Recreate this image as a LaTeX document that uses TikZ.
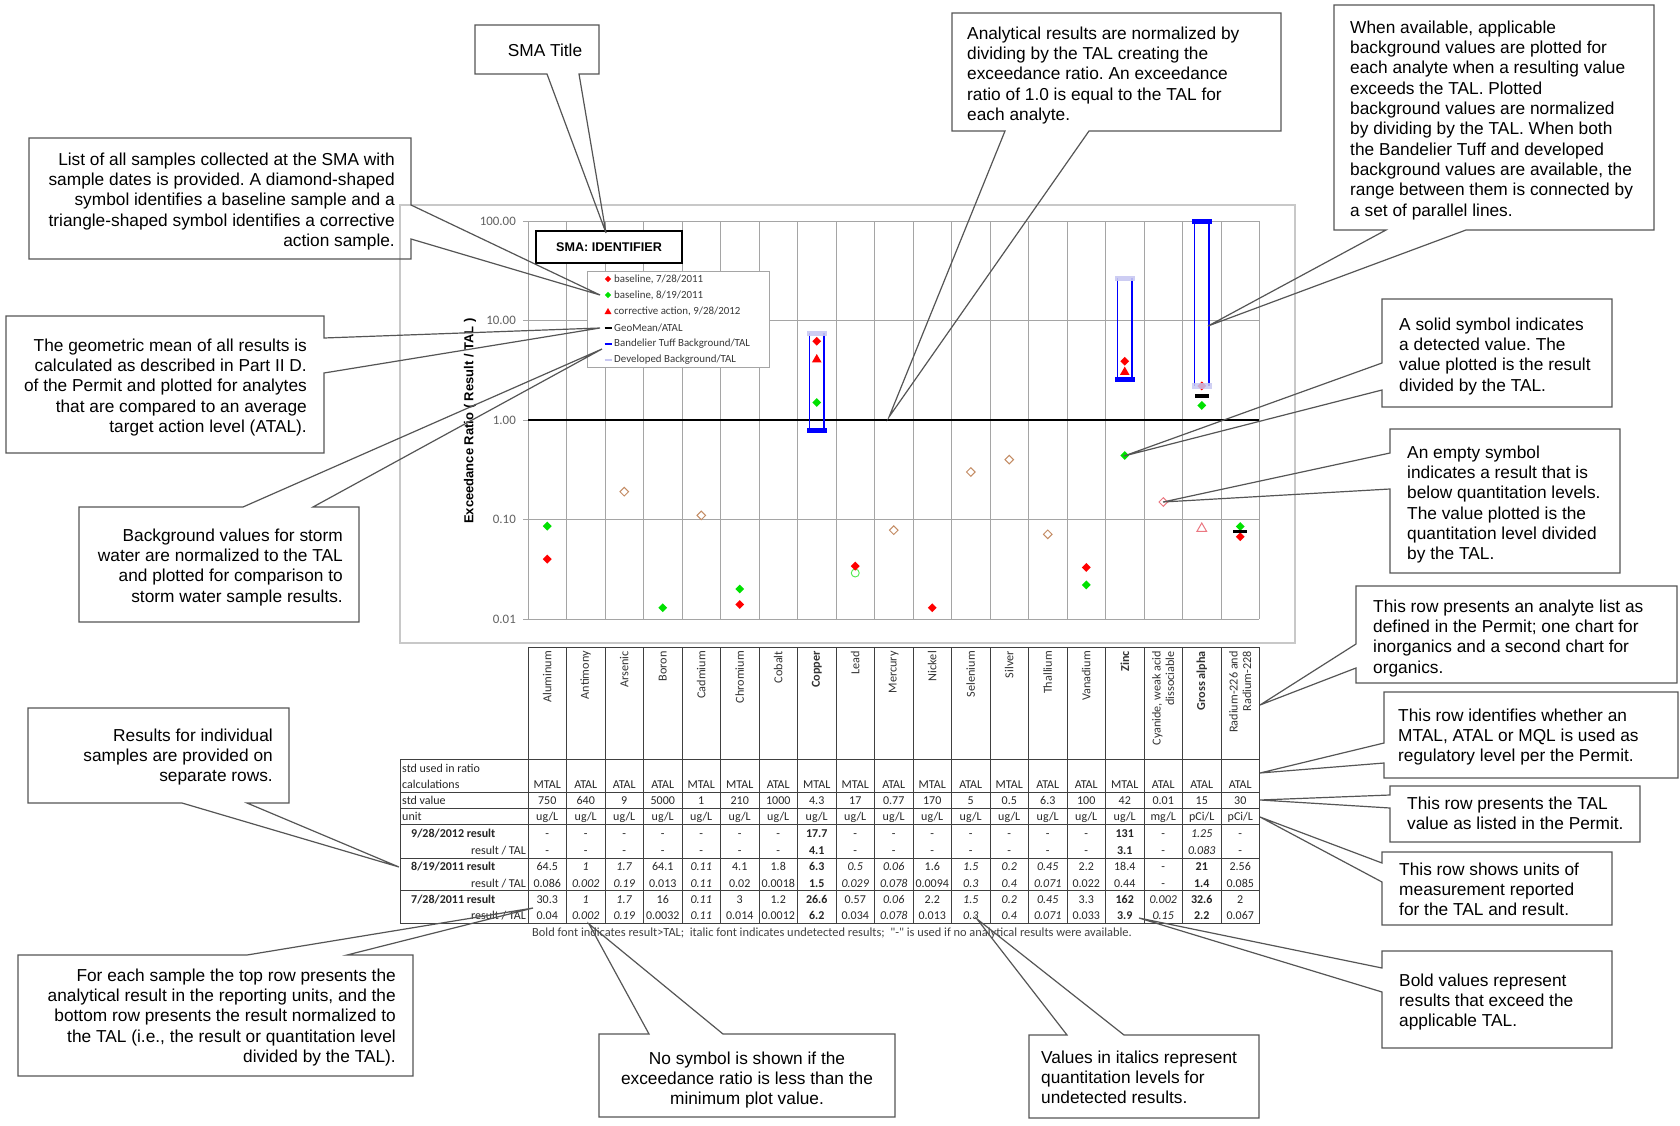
\documentclass[tikz,border=0pt]{standalone}
\usepackage{fontspec}
\setmainfont{Liberation Sans}
\newfontfamily\calfont{Carlito}
\usetikzlibrary{shapes.geometric}
\definecolor{cgreen}{RGB}{0,225,0}
\definecolor{cred}{RGB}{255,0,0}
\definecolor{cblue}{RGB}{0,0,255}
\definecolor{clav}{RGB}{200,200,242}
\definecolor{ctan}{RGB}{196,140,100}
\definecolor{cpink}{RGB}{235,120,130}
\definecolor{cgrid}{RGB}{165,165,165}
\definecolor{cframe}{RGB}{200,200,200}
\definecolor{cline}{RGB}{85,85,85}
\newcommand\bv[1]{\textbf{#1}}
\newcommand\iv[1]{\textit{#1}}
\frenchspacing
\begin{document}
\begin{tikzpicture}[x=1pt,y=-1pt,
  callbox/.style={draw=cline, line width=1.2pt, line join=miter},
  ctext/.style={inner sep=0pt, font=\fontsize{17.3}{20.3}\selectfont},
  tabtxt/.style={inner sep=0pt, font=\calfont\fontsize{12}{14}\selectfont, text=black!85},
  hdr/.style={inner sep=0pt, font=\calfont\fontsize{12.2}{13.5}\selectfont, text=black!80, rotate=90, anchor=east, align=right},
  ticklbl/.style={inner sep=0pt, anchor=east, font=\calfont\fontsize{12.9}{15}\selectfont, text=black!62},
  legtxt/.style={inner sep=0pt, anchor=west, font=\calfont\fontsize{10.9}{13}\selectfont, text=black!78},
  fdia/.style={diamond, fill=#1, inner sep=0pt, minimum size=9pt},
  odia/.style={diamond, draw=#1, line width=1pt, inner sep=0pt, minimum size=9pt},
  ftri/.style={regular polygon, regular polygon sides=3, fill=#1, inner sep=0pt, minimum size=11pt},
  otri/.style={regular polygon, regular polygon sides=3, draw=#1, line width=1pt, inner sep=0pt, minimum size=11pt},
  tline/.style={draw=black!75, line width=0.9pt},
  gline/.style={draw=cgrid, line width=0.8pt},
]
\useasboundingbox (0,0) rectangle (1680,1126);
\fill[white] (0,0) rectangle (1680,1126);

% ---------------- chart frame and grid
\draw[cframe, line width=1.6pt] (400,205) rectangle (1295,643);
\foreach \k in {0,...,19} \draw[gline] ({528+\k*38.5},221) -- ({528+\k*38.5},619);
\foreach \yy in {221,320.5,519.5,619} \draw[gline] (523,\yy) -- (1259,\yy);
\draw[gline] (523,420) -- (528,420);
\draw[black, line width=1.6pt] (528,420) -- (1259,420);

\node[ticklbl] (t100) at (516,221) {100.00};
\node[ticklbl] (t10) at (516,320.5) {10.00};
\node[ticklbl] (t1) at (516,420) {1.00};
\node[ticklbl] (t01) at (516,519.5) {0.10};
\node[ticklbl] (t001) at (516,619) {0.01};
\node[rotate=90, inner sep=0pt, font=\bfseries\fontsize{13}{15}\selectfont] (ytitle) at (470,421) {Exceedance Ratio ( Result / TAL )};

% ---------------- background bars
\draw[cblue, line width=1.6pt] (809.45,333) -- (809.45,430) (824.05,333) -- (824.05,430);
\draw[cblue, line width=1.6pt] (1117.45,278) -- (1117.45,379) (1132.05,278) -- (1132.05,379);
\draw[cblue, line width=1.6pt] (1194.45,221) -- (1194.45,386) (1209.05,221) -- (1209.05,386);

% ---------------- data points
\node[fdia=cgreen] (p1a) at (547.25,526.1) {};
\node[fdia=cred] (p1b) at (547.25,559.1) {};
\node[odia=ctan] (p3) at (624.25,491.7) {};
\node[fdia=cgreen] (p4) at (662.75,607.7) {};
\node[odia=ctan] (p5) at (701.25,515.4) {};
\node[fdia=cgreen] (p6a) at (739.75,589.0) {};
\node[fdia=cred] (p6b) at (739.75,604.5) {};
\node[fdia=cred] (p8a) at (816.75,341.2) {};
\node[ftri=cred] (p8b) at (816.75,359.5) {};
\node[fdia=cgreen] (p8c) at (816.75,402.5) {};
\node[circle, draw=cgreen!70, line width=0.9pt, inner sep=0pt, minimum size=8pt] (p9a) at (855.25,573.0) {};
\node[fdia=cred] (p9b) at (855.25,566.1) {};
\node[odia=ctan] (p10) at (893.75,530.2) {};
\node[fdia=cred] (p11) at (932.25,607.7) {};
\node[odia=ctan] (p12) at (970.75,472.0) {};
\node[odia=ctan] (p13) at (1009.25,459.6) {};
\node[odia=ctan] (p14) at (1047.75,534.3) {};
\node[fdia=cgreen] (p15a) at (1086.25,584.9) {};
\node[fdia=cred] (p15b) at (1086.25,567.4) {};
\node[fdia=cred] (p16a) at (1124.75,361.2) {};
\node[ftri=cred] (p16b) at (1124.75,372.1) {};
\node[fdia=cgreen] (p16c) at (1124.75,455.5) {};
\node[odia=cpink] (p17) at (1163.25,502.0) {};
\node[otri=cpink] (p18a) at (1201.75,528.5) {};
\node[fdia=cgreen] (p18b) at (1201.75,405.4) {};
\node[fdia=cred] (p18c) at (1201.75,385.9) {};
\node[fdia=cgreen] (p19a) at (1240.25,526.5) {};
\node[fdia=cred] (p19b) at (1240.25,536.8) {};

% caps and geomeans
\fill[clav, opacity=0.9] (806.75,330.5) rectangle (826.75,335.5);
\fill[cblue] (806.75,427.5) rectangle (826.75,432.5);
\fill[clav, opacity=0.9] (1114.75,275.5) rectangle (1134.75,280.5);
\fill[cblue] (1114.75,377) rectangle (1134.75,382);
\fill[cblue] (1191.75,218.5) rectangle (1211.75,223.5);
\fill[clav, opacity=0.85] (1191.75,383) rectangle (1211.75,389);
\fill[black] (1194.5,394) rectangle (1208.5,397.5);
\fill[black] (1232.7,529.8) rectangle (1246.7,533.4);

% ---------------- SMA identifier and legend
\node[draw=black, line width=2pt, fill=white, minimum width=146pt, minimum height=32pt, inner sep=0pt, font=\bfseries\fontsize{12.6}{14}\selectfont] (sma) at (609,247) {SMA: IDENTIFIER};
\draw[draw=cgrid, fill=white, line width=0.9pt] (587,271) rectangle (769,367);
\node[fdia=cred, minimum size=6.5pt] (ls1) at (608,279) {};
\node[fdia=cgreen, minimum size=6.5pt] (ls2) at (608,295) {};
\node[ftri=cred, minimum size=8pt] (ls3) at (608,312) {};
\draw[black, line width=2pt] (604.5,328) -- (611.5,328);
\draw[cblue, line width=1.6pt] (604.5,344) -- (611.5,344);
\draw[clav, line width=1.6pt] (604.5,360) -- (611.5,360);
\node[legtxt] (lt1) at (614,279) {baseline, 7/28/2011};
\node[legtxt] (lt2) at (614,295) {baseline, 8/19/2011};
\node[legtxt] (lt3) at (614,311) {corrective action, 9/28/2012};
\node[legtxt] (lt4) at (614,328) {GeoMean/ATAL};
\node[legtxt] (lt5) at (614,344) {Bandelier Tuff Background/TAL};
\node[legtxt] (lt6) at (614,360) {Developed Background/TAL};

% ---------------- table
\draw[tline] (528,647) -- (1260,647);
\foreach \yy in {759,792,808,824,858,890,923} \draw[tline] (400,\yy) -- (1260,\yy);
\draw[tline] (400,759) -- (400,923);
\foreach \k in {0,...,19} \draw[tline] ({528+\k*38.5},647) -- ({528+\k*38.5},923);

\foreach \h [count=\i] in {Aluminum,Antimony,Arsenic,Boron,Cadmium,Chromium,Cobalt,\bv{Copper},Lead,Mercury,Nickel,Selenium,Silver,Thallium,Vanadium,\bv{Zinc},{Cyanide, weak acid\\dissociable},\bv{Gross alpha},{Radium-226 and\\Radium-228}}
  \node[hdr] (h\i) at ({528+(\i-0.5)*38.5},651) {\h};

\node[tabtxt, anchor=base west] (lsu1) at (402,772) {std used in ratio};
\node[tabtxt, anchor=base west] (lsu2) at (402,788) {calculations};
\node[tabtxt, anchor=base west] (lsv) at (402,804) {std value};
\node[tabtxt, anchor=base west] (lun) at (402,820) {unit};
\node[tabtxt, anchor=base west] (l1) at (411,837) {\bfseries 9/28/2012 result};
\node[tabtxt, anchor=base east] (l1t) at (526,854) {result / TAL};
\node[tabtxt, anchor=base west] (l2) at (411,870) {\bfseries 8/19/2011 result};
\node[tabtxt, anchor=base east] (l2t) at (526,887) {result / TAL};
\node[tabtxt, anchor=base west] (l3) at (411,903) {\bfseries 7/28/2011 result};
\node[tabtxt, anchor=base east] (l3t) at (526,919) {result / TAL};

\foreach \v [count=\i] in {MTAL,ATAL,ATAL,ATAL,MTAL,MTAL,ATAL,MTAL,MTAL,ATAL,MTAL,ATAL,MTAL,ATAL,ATAL,MTAL,ATAL,ATAL,ATAL}
  \node[tabtxt, anchor=base] (su\i) at ({528+(\i-0.5)*38.5},788) {\v};
\foreach \v [count=\i] in {750,640,9,5000,1,210,1000,4.3,17,0.77,170,5,0.5,6.3,100,42,0.01,15,30}
  \node[tabtxt, anchor=base] (sv\i) at ({528+(\i-0.5)*38.5},804) {\v};
\foreach \v [count=\i] in {ug/L,ug/L,ug/L,ug/L,ug/L,ug/L,ug/L,ug/L,ug/L,ug/L,ug/L,ug/L,ug/L,ug/L,ug/L,ug/L,mg/L,pCi/L,pCi/L}
  \node[tabtxt, anchor=base] (un\i) at ({528+(\i-0.5)*38.5},820) {\v};
\foreach \v [count=\i] in {-,-,-,-,-,-,-,\bv{17.7},-,-,-,-,-,-,-,\bv{131},-,\iv{1.25},-}
  \node[tabtxt, anchor=base] (ra\i) at ({528+(\i-0.5)*38.5},837) {\v};
\foreach \v [count=\i] in {-,-,-,-,-,-,-,\bv{4.1},-,-,-,-,-,-,-,\bv{3.1},-,\iv{0.083},-}
  \node[tabtxt, anchor=base] (rat\i) at ({528+(\i-0.5)*38.5},854) {\v};
\foreach \v [count=\i] in {64.5,\iv{1},\iv{1.7},64.1,\iv{0.11},4.1,1.8,\bv{6.3},\iv{0.5},\iv{0.06},1.6,\iv{1.5},\iv{0.2},\iv{0.45},2.2,18.4,-,\bv{21},2.56}
  \node[tabtxt, anchor=base] (rb\i) at ({528+(\i-0.5)*38.5},870) {\v};
\foreach \v [count=\i] in {0.086,\iv{0.002},\iv{0.19},0.013,\iv{0.11},0.02,0.0018,\bv{1.5},\iv{0.029},\iv{0.078},0.0094,\iv{0.3},\iv{0.4},\iv{0.071},0.022,0.44,-,\bv{1.4},0.085}
  \node[tabtxt, anchor=base] (rbt\i) at ({528+(\i-0.5)*38.5},887) {\v};
\foreach \v [count=\i] in {30.3,\iv{1},\iv{1.7},16,\iv{0.11},3,1.2,\bv{26.6},0.57,\iv{0.06},2.2,\iv{1.5},\iv{0.2},\iv{0.45},3.3,\bv{162},\iv{0.002},\bv{32.6},2}
  \node[tabtxt, anchor=base] (rc\i) at ({528+(\i-0.5)*38.5},903) {\v};
\foreach \v [count=\i] in {0.04,\iv{0.002},\iv{0.19},0.0032,\iv{0.11},0.014,0.0012,\bv{6.2},0.034,\iv{0.078},0.013,\iv{0.3},\iv{0.4},\iv{0.071},0.033,\bv{3.9},\iv{0.15},\bv{2.2},0.067}
  \node[tabtxt, anchor=base] (rct\i) at ({528+(\i-0.5)*38.5},919) {\v};

\node[tabtxt, anchor=base west, text=black!75, font=\calfont\fontsize{12.4}{14}\selectfont] (foot) at (532,936) {Bold font indicates result>TAL;\ \ italic font indicates undetected results;\ \ "-" is used if no analytical results were available.};

% ---------------- callouts
\coordinate (tSMA) at (606,233);
\coordinate (tList) at (600,295);
\coordinate (tGeo) at (600,328);
\coordinate (tBg) at (602,349);
\coordinate (tRes) at (399,867);
\coordinate (tEach) at (533,908);
\coordinate (tNo) at (589,924);
\coordinate (tIt) at (977,919);
\coordinate (tBold) at (1139,918);
\coordinate (tUnit) at (1260,817);
\coordinate (tTal) at (1260,800);
\coordinate (tIdent) at (1260,773);
\coordinate (tAnal) at (1260,705);
\coordinate (tEmpty) at (1163,502);
\coordinate (tSolid) at (1124,456);
\coordinate (tWhen) at (1208,326);
\coordinate (tNorm) at (889,417);

\draw[callbox] (475,25) -- (599,25) -- (599,74) -- (579,74) -- (tSMA) -- (547,74) -- (475,74) -- cycle;
\node[ctext] (cSMA) at (545,50) {SMA Title};

\draw[callbox] (29,138) -- (411,138) -- (411,205) -- (tList) -- (411,239) -- (411,259) -- (29,259) -- cycle;
\node[ctext, anchor=north east, align=right] (cList) at (395,152.6) {List of all samples collected at the SMA with\\sample dates is provided. A diamond-shaped\\symbol identifies a baseline sample and a\\triangle-shaped symbol identifies a corrective\\action sample.};

\draw[callbox] (6,316) -- (324,316) -- (324,338) -- (tGeo) -- (324,373) -- (324,453) -- (6,453) -- cycle;
\node[ctext, anchor=north east, align=right] (cGeo) at (307,338.6) {The geometric mean of all results is\\calculated as described in Part II D.\\of the Permit and plotted for analytes\\that are compared to an average\\target action level (ATAL).};

\draw[callbox] (79,507) -- (243,507) -- (tBg) -- (313,507) -- (359,507) -- (359,622) -- (79,622) -- cycle;
\node[ctext, anchor=north east, align=right] (cBg) at (343,528.6) {Background values for storm\\water are normalized to the TAL\\and plotted for comparison to\\storm water sample results.};

\draw[callbox] (28,708) -- (289,708) -- (289,803) -- (247,803) -- (tRes) -- (182,803) -- (28,803) -- cycle;
\node[ctext, anchor=north east, align=right] (cRes) at (273,728.6) {Results for individual\\samples are provided on\\separate rows.};

\draw[callbox] (18,955) -- (247,955) -- (tEach) -- (347,955) -- (413,955) -- (413,1076) -- (18,1076) -- cycle;
\node[ctext, anchor=north east, align=right] (cEach) at (396,968.6) {For each sample the top row presents the\\analytical result in the reporting units, and the\\bottom row presents the result normalized to\\the TAL (i.e., the result or quantitation level\\divided by the TAL).};

\draw[callbox] (599,1034) -- (649,1034) -- (tNo) -- (723,1034) -- (895,1034) -- (895,1117) -- (599,1117) -- cycle;
\node[ctext, anchor=north, align=center] (cNo) at (747,1051.6) {No symbol is shown if the\\exceedance ratio is less than the\\minimum plot value.};

\draw[callbox] (1029,1035) -- (1067,1035) -- (tIt) -- (1124,1035) -- (1259,1035) -- (1259,1118) -- (1029,1118) -- cycle;
\node[ctext, anchor=north west, align=left] (cIt) at (1041,1050.6) {Values in italics represent\\quantitation levels for\\undetected results.};

\draw[callbox] (1382,951) -- (1612,951) -- (1612,1048) -- (1382,1048) -- (1382,992) -- (tBold) -- (1382,968) -- cycle;
\node[ctext, anchor=north west, align=left] (cBold) at (1399,973.6) {Bold values represent\\results that exceed the\\applicable TAL.};

\draw[callbox] (1382,852) -- (1612,852) -- (1612,925) -- (1382,925) -- (1382,882) -- (tUnit) -- (1382,863) -- cycle;
\node[ctext, anchor=north west, align=left] (cUnit) at (1399,862.6) {This row shows units of\\measurement reported\\for the TAL and result.};

\draw[callbox] (1390,786) -- (1640,786) -- (1640,842) -- (1390,842) -- (1390,808) -- (tTal) -- (1390,795) -- cycle;
\node[ctext, anchor=north west, align=left] (cTal) at (1407,796.6) {This row presents the TAL\\value as listed in the Permit.};

\draw[callbox] (1384,692) -- (1678,692) -- (1678,778) -- (1384,778) -- (1384,763) -- (tIdent) -- (1384,743) -- cycle;
\node[ctext, anchor=north west, align=left] (cIdent) at (1398,708.6) {This row identifies whether an\\MTAL, ATAL or MQL is used as\\regulatory level per the Permit.};

\draw[callbox] (1356,586) -- (1677,586) -- (1677,683) -- (1356,683) -- (1356,668) -- (tAnal) -- (1356,644) -- cycle;
\node[ctext, anchor=north west, align=left] (cAnal) at (1373,599.6) {This row presents an analyte list as\\defined in the Permit; one chart for\\inorganics and a second chart for\\organics.};

\draw[callbox] (1390,429) -- (1620,429) -- (1620,573) -- (1390,573) -- (1390,489) -- (tEmpty) -- (1390,453) -- cycle;
\node[ctext, anchor=north west, align=left] (cEmpty) at (1407,445.6) {An empty symbol\\indicates a result that is\\below quantitation levels.\\The value plotted is the\\quantitation level divided\\by the TAL.};

\draw[callbox] (1382,299) -- (1612,299) -- (1612,407) -- (1382,407) -- (1382,390) -- (tSolid) -- (1382,363) -- cycle;
\node[ctext, anchor=north west, align=left] (cSolid) at (1399,317.6) {A solid symbol indicates\\a detected value. The\\value plotted is the result\\divided by the TAL.};

\draw[callbox] (1334,5) -- (1654,5) -- (1654,230) -- (1466,230) -- (tWhen) -- (1386,230) -- (1334,230) -- cycle;
\node[ctext, anchor=north west, align=left] (cWhen) at (1350,20.6) {When available, applicable\\background values are plotted for\\each analyte when a resulting value\\exceeds the TAL. Plotted\\background values are normalized\\by dividing by the TAL. When both\\the Bandelier Tuff and developed\\background values are available, the\\range between them is connected by\\a set of parallel lines.};

\draw[callbox] (952,13) -- (1281,13) -- (1281,131) -- (1089,131) -- (tNorm) -- (1005,131) -- (952,131) -- cycle;
\node[ctext, anchor=north west, align=left] (cNorm) at (967,26.6) {Analytical results are normalized by\\dividing by the TAL creating the\\exceedance ratio. An exceedance\\ratio of 1.0 is equal to the TAL for\\each analyte.};
\end{tikzpicture}
\end{document}
